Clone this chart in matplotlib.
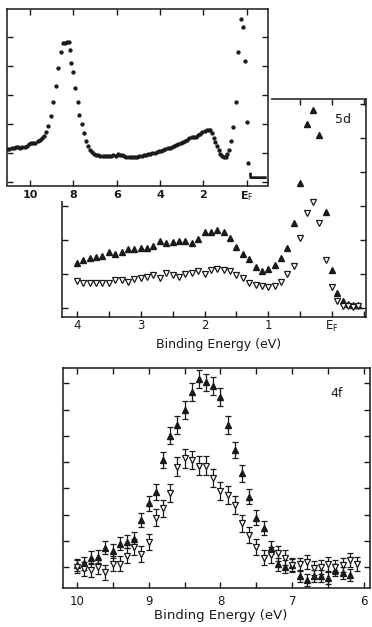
import matplotlib
matplotlib.use('Agg')
import matplotlib.pyplot as plt
from matplotlib.patches import Rectangle

plt.rcParams['font.family'] = ['DejaVu Sans']

# ---------------- data ----------------
# inset: wide-range valence band spectrum (arb. units)
inset_energy = [11.05, 10.95, 10.85, 10.75, 10.65, 10.55, 10.45, 10.35, 10.25, 10.15,
                10.05, 9.95, 9.85, 9.75, 9.65, 9.55, 9.45, 9.35, 9.26, 9.16,
                9.03, 8.92, 8.82, 8.69, 8.58, 8.46, 8.37, 8.29, 8.22, 8.16,
                8.09, 8.00, 7.91, 7.80, 7.72, 7.61, 7.51, 7.42, 7.34, 7.25,
                7.15, 7.05, 6.95, 6.85, 6.75, 6.65, 6.55, 6.45, 6.35, 6.25,
                6.15, 6.05, 5.95, 5.85, 5.75, 5.65, 5.55, 5.45, 5.35, 5.25,
                5.15, 5.05, 4.95, 4.85, 4.75, 4.65, 4.55, 4.45, 4.35, 4.25,
                4.15, 4.05, 3.95, 3.85, 3.75, 3.65, 3.55, 3.45, 3.35, 3.25,
                3.15, 3.05, 2.95, 2.85, 2.75, 2.65, 2.55, 2.45, 2.35, 2.25,
                2.15, 2.05, 1.95, 1.85, 1.75, 1.68, 1.60, 1.52, 1.45, 1.38,
                1.30, 1.22, 1.14, 1.06, 0.98, 0.90, 0.83, 0.72, 0.62, 0.49,
                0.39, 0.28, 0.16, 0.08, 0.00, -0.08]
inset_counts = [1.13, 1.14, 1.16, 1.18, 1.21, 1.19, 1.17, 1.20, 1.21, 1.25,
                1.31, 1.34, 1.32, 1.35, 1.40, 1.45, 1.52, 1.58, 1.72, 1.92,
                2.26, 2.76, 3.30, 3.91, 4.46, 4.79, 4.80, 4.82, 4.83, 4.54,
                4.10, 3.79, 3.24, 2.76, 2.30, 1.98, 1.67, 1.41, 1.23, 1.09,
                1.02, 0.97, 0.93, 0.91, 0.90, 0.89, 0.89, 0.90, 0.89, 0.90,
                0.91, 0.90, 0.95, 0.93, 0.91, 0.89, 0.87, 0.86, 0.86, 0.85,
                0.85, 0.86, 0.88, 0.90, 0.92, 0.92, 0.94, 0.95, 0.98, 1.00,
                1.03, 1.06, 1.07, 1.09, 1.13, 1.15, 1.18, 1.21, 1.24, 1.26,
                1.29, 1.33, 1.36, 1.40, 1.45, 1.52, 1.55, 1.55, 1.56, 1.61,
                1.66, 1.70, 1.74, 1.78, 1.80, 1.78, 1.67, 1.52, 1.38, 1.24,
                1.10, 0.97, 0.89, 0.85, 0.86, 0.94, 1.09, 1.40, 1.90, 2.76,
                4.46, 5.63, 5.34, 4.16, 2.07, 0.63]
inset_tail_energy = [-0.17, -0.18, -0.92]
inset_tail_counts = [0.31, 0.14, 0.14]
inset_ticks = [10, 8, 6, 4, 2, 0]
inset_ticklabels = ['10', '8', '6', '4', '2', r'E$_\mathrm{F}$']

# 5d panel
d5_energy = [4.0, 3.9, 3.8, 3.7, 3.6, 3.5, 3.4, 3.3, 3.2, 3.1,
             3.0, 2.9, 2.8, 2.7, 2.6, 2.5, 2.4, 2.3, 2.2, 2.1,
             2.0, 1.9, 1.8, 1.7, 1.6, 1.5, 1.4, 1.3, 1.2, 1.1,
             1.0, 0.9, 0.8, 0.7, 0.6, 0.5, 0.4, 0.3, 0.2, 0.1,
             0.0, -0.08, -0.17, -0.25, -0.33, -0.40]
d5_filled = [1.34, 1.42, 1.49, 1.52, 1.54, 1.66, 1.60, 1.64, 1.74, 1.74,
             1.76, 1.78, 1.84, 1.99, 1.91, 1.95, 1.97, 1.99, 1.93, 2.05,
             2.23, 2.25, 2.30, 2.23, 2.08, 1.81, 1.59, 1.44, 1.21, 1.08,
             1.15, 1.27, 1.47, 1.78, 2.52, 3.68, 5.42, 5.83, 5.10, 2.84,
             1.13, 0.46, 0.20, 0.12, 0.10, 0.10]
d5_open = [0.81, 0.75, 0.73, 0.73, 0.73, 0.73, 0.83, 0.83, 0.78, 0.85,
           0.90, 0.93, 0.98, 0.88, 1.05, 0.98, 0.93, 1.00, 1.05, 1.08,
           1.01, 1.13, 1.14, 1.13, 1.08, 0.98, 0.88, 0.74, 0.67, 0.64,
           0.61, 0.64, 0.76, 1.00, 1.25, 2.08, 2.79, 3.14, 2.52, 1.42,
           0.61, 0.21, 0.05, 0.05, 0.03, 0.05]
d5_ticks = [4, 3, 2, 1, 0]
d5_ticklabels = ['4', '3', '2', '1', r'E$_\mathrm{F}$']

# 4f panel
f4_energy = [10.0, 9.9, 9.8, 9.7, 9.6, 9.5, 9.4, 9.3, 9.2, 9.1,
             9.0, 8.9, 8.8, 8.7, 8.6, 8.5, 8.4, 8.3, 8.2, 8.1,
             8.0, 7.9, 7.8, 7.7, 7.6, 7.5, 7.4, 7.3, 7.2, 7.1,
             7.0, 6.9, 6.8, 6.7, 6.6, 6.5, 6.4, 6.3, 6.2, 6.1]
f4_filled = [0.09, 0.15, 0.37, 0.40, 0.75, 0.62, 0.89, 0.97, 1.08, 1.80,
             2.43, 2.85, 4.08, 5.00, 5.41, 5.98, 6.68, 7.16, 7.03, 6.91,
             6.49, 5.41, 4.46, 3.57, 2.69, 1.89, 1.48, 0.75, 0.11, 0.02,
             0.09, -0.32, -0.48, -0.32, -0.32, -0.42, -0.10, -0.23, -0.29]
f4_filled_err = [0.24, 0.24, 0.24, 0.24, 0.25, 0.25, 0.25, 0.25, 0.26, 0.28,
                 0.29, 0.30, 0.32, 0.32, 0.33, 0.34, 0.34, 0.34, 0.34, 0.34,
                 0.34, 0.33, 0.32, 0.31, 0.30, 0.28, 0.27, 0.25, 0.24, 0.24,
                 0.24, 0.23, 0.23, 0.23, 0.23, 0.23, 0.23, 0.23, 0.23]
f4_open = [0.02, -0.06, -0.10, 0.02, -0.19, 0.13, 0.13, 0.44, 0.78, 0.49,
           0.95, 1.89, 2.24, 2.84, 3.83, 4.14, 4.08, 3.86, 3.86, 3.40,
           2.90, 2.75, 2.37, 1.67, 1.23, 0.78, 0.37, 0.47, 0.53, 0.37,
           0.09, 0.11, 0.19, -0.02, 0.02, 0.13, 0.02, 0.09, 0.28, 0.13]
f4_open_err = [0.25, 0.27, 0.27, 0.27, 0.28, 0.28, 0.28, 0.29, 0.30, 0.30,
               0.31, 0.32, 0.33, 0.34, 0.36, 0.36, 0.36, 0.36, 0.36, 0.35,
               0.34, 0.34, 0.33, 0.32, 0.31, 0.30, 0.29, 0.29, 0.29, 0.28,
               0.26, 0.26, 0.26, 0.26, 0.26, 0.26, 0.26, 0.26, 0.26, 0.26]
f4_ticks = [10, 9, 8, 7, 6]
f4_ticklabels = ['10', '9', '8', '7', '6']

# ---------------- figure ----------------
W, H = 372, 627
fig = plt.figure(figsize=(W / 100, H / 100), dpi=100)
fig.patch.set_facecolor('white')
ink = '#1a1a1a'


def ax_px(l, t, r, b):
    return fig.add_axes([l / W, 1 - b / H, (r - l) / W, (b - t) / H])


def style(ax, pad):
    for s in ax.spines.values():
        s.set_linewidth(1.1)
        s.set_color(ink)
    ax.tick_params(which='both', direction='in', top=True, right=True,
                   length=4, width=1.0, color=ink, labelsize=8.5, pad=pad,
                   labelcolor=ink)
    ax.tick_params(axis='y', labelleft=False)


# 5d panel (drawn first, partly hidden by the inset)
mid = ax_px(62, 99, 366, 317)
mid.set_zorder(0)
mid.set_xlim(4.235, -0.533)
mid.set_ylim(-0.26, 6.16)
style(mid, 1.5)
mid.set_xticks(d5_ticks)
mid.set_xticklabels(d5_ticklabels)
mid.set_xticks([3.5, 2.5, 1.5, 0.5, -0.5], minor=True)
mid.set_yticks(range(0, 7))
mid.plot(d5_energy, d5_filled, linestyle='none', marker='^', ms=4.8,
         color=ink, mec=ink)
mid.plot(d5_energy, d5_open, linestyle='none', marker='v', ms=4.8,
         mfc='white', mec=ink, mew=0.9)
mid.text(0.924, 0.904, '5d', transform=mid.transAxes, fontsize=9,
         color=ink, ha='center', va='center')
fig.text(219 / W, 1 - 344 / H, 'Binding Energy (eV)', ha='center',
         va='center', fontsize=9, color=ink)

# white area below the inset (covers the 5d frame there)
fig.add_artist(Rectangle((0, 1 - 201 / H), 271 / W, 201 / H,
                         transform=fig.transFigure, facecolor='white',
                         edgecolor='none', zorder=1))

# inset
ins = ax_px(7.3, 9, 268, 185.5)
ins.set_zorder(2)
ins.set_facecolor('white')
ins.set_xlim(11.05, -0.98)
ins.set_ylim(-0.13, 5.96)
style(ins, 3)
ins.tick_params(labelsize=8)
ins.set_xticks(inset_ticks)
ins.set_xticklabels(inset_ticklabels, fontweight='bold')
ins.set_yticks(range(0, 6))
ins.plot(inset_energy, inset_counts, linestyle='none', marker='o', ms=2.1,
         color=ink, mec=ink)
ins.plot(inset_tail_energy, inset_tail_counts, color=ink, lw=2.0,
         solid_capstyle='butt')

# 4f panel
bot = ax_px(63, 368, 370, 588)
bot.set_xlim(10.19, 5.92)
bot.set_ylim(-0.79, 7.58)
style(bot, 5)
bot.set_xticks(f4_ticks)
bot.set_xticklabels(f4_ticklabels)
bot.set_xticks([9.5, 8.5, 7.5, 6.5], minor=True)
bot.set_yticks(range(0, 8))
bot.errorbar(f4_energy[:len(f4_filled)], f4_filled, yerr=f4_filled_err,
             fmt='^', ms=4.3, color=ink, mec=ink, ecolor=ink,
             elinewidth=0.9, capsize=2.2, capthick=0.9)
bot.errorbar(f4_energy, f4_open, yerr=f4_open_err, fmt='v', ms=4.3,
             mfc='white', mec=ink, mew=0.9, ecolor=ink, elinewidth=0.9,
             capsize=2.2, capthick=0.9)
bot.text(0.892, 0.886, '4f', transform=bot.transAxes, fontsize=9,
         color=ink, ha='center', va='center')
fig.text(221 / W, 1 - 616 / H, 'Binding Energy (eV)', ha='center',
         va='center', fontsize=9.5, color=ink)

fig.savefig('out.png', dpi=100, facecolor='white')
